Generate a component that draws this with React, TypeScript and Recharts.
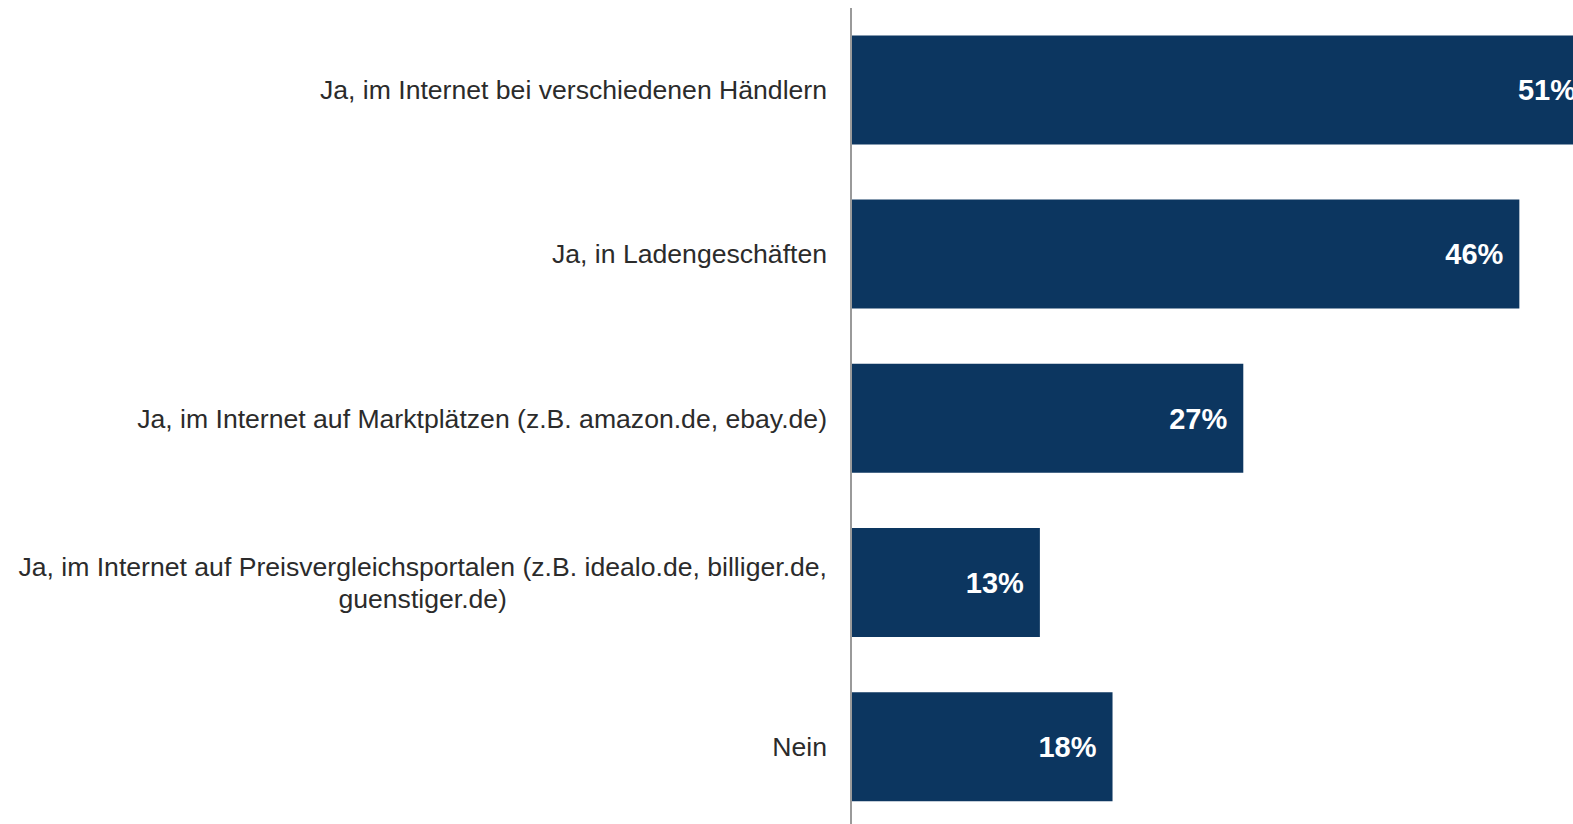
import React from "react";
import { BarChart, Bar, XAxis, YAxis, LabelList } from "recharts";

// Antworten (Kategorien) und Anteile in Prozent
const categories = [
  "Ja, im Internet bei verschiedenen Händlern",
  "Ja, in Ladengeschäften",
  "Ja, im Internet auf Marktplätzen (z.B. amazon.de, ebay.de)",
  "Ja, im Internet auf Preisvergleichsportalen (z.B. idealo.de, billiger.de, guenstiger.de)",
  "Nein",
];
const shares = [51, 46, 27, 13, 18];

const data = categories.map((name, i) => ({ name, value: shares[i] }));

const FONT = "'Liberation Sans', Arial, Helvetica, sans-serif";
const BAR_COLOR = "#0C3660";
const TEXT_COLOR = "#2b2b2b";
const LABEL_SIZE = 26.6;
const MAX_CHARS = 75;

let ctx: CanvasRenderingContext2D | null = null;
function measure(text: string): number {
  if (!ctx) ctx = document.createElement("canvas").getContext("2d");
  if (!ctx) return text.length * LABEL_SIZE * 0.5;
  ctx.font = `${LABEL_SIZE}px ${FONT}`;
  return ctx.measureText(text).width;
}

function wrap(text: string): string[] {
  const lines: string[] = [];
  let cur = "";
  for (const w of text.split(" ")) {
    const next = cur ? cur + " " + w : w;
    if (next.length > MAX_CHARS && cur) {
      lines.push(cur);
      cur = w;
    } else cur = next;
  }
  if (cur) lines.push(cur);
  return lines;
}

function CategoryTick(props: any) {
  const { x, y, payload } = props;
  const lines = wrap(String(payload.value));
  const block = Math.max(...lines.map(measure));
  const lineH = 32;
  const cx = x - block / 2;
  const y0 = y - ((lines.length - 1) * lineH) / 2;
  return (
    <text
      x={cx}
      y={y0}
      textAnchor="middle"
      dominantBaseline="central"
      fill={TEXT_COLOR}
      fontSize={LABEL_SIZE}
      fontFamily={FONT}
    >
      {lines.map((l, i) => (
        <tspan key={i} x={cx} y={y0 + i * lineH}>
          {l}
        </tspan>
      ))}
    </text>
  );
}

export default function App() {
  return (
    <div
      style={{
        position: "absolute",
        left: 0,
        top: 0,
        width: 1573,
        height: 824,
        overflow: "hidden",
        background: "#fff",
      }}
    >
      <BarChart
        width={1592}
        height={829}
        data={data}
        layout="vertical"
        barCategoryGap="16.7%"
        margin={{ top: 8, right: 0, left: 0, bottom: 0 }}
      >
        <XAxis type="number" domain={[0, 51]} hide />
        <YAxis
          type="category"
          dataKey="name"
          width={851}
          tickLine={false}
          tickSize={0}
          tickMargin={24}
          axisLine={{ stroke: "#9a9a9a", strokeWidth: 2 }}
          tick={<CategoryTick />}
          interval={0}
        />
        <Bar dataKey="value" fill={BAR_COLOR} isAnimationActive={false}>
          <LabelList
            dataKey="value"
            position="insideRight"
            offset={16}
            formatter={(v: any) => `${v}%`}
            fill="#ffffff"
            fontSize={29}
            fontWeight="bold"
            fontFamily={FONT}
          />
        </Bar>
      </BarChart>
    </div>
  );
}
